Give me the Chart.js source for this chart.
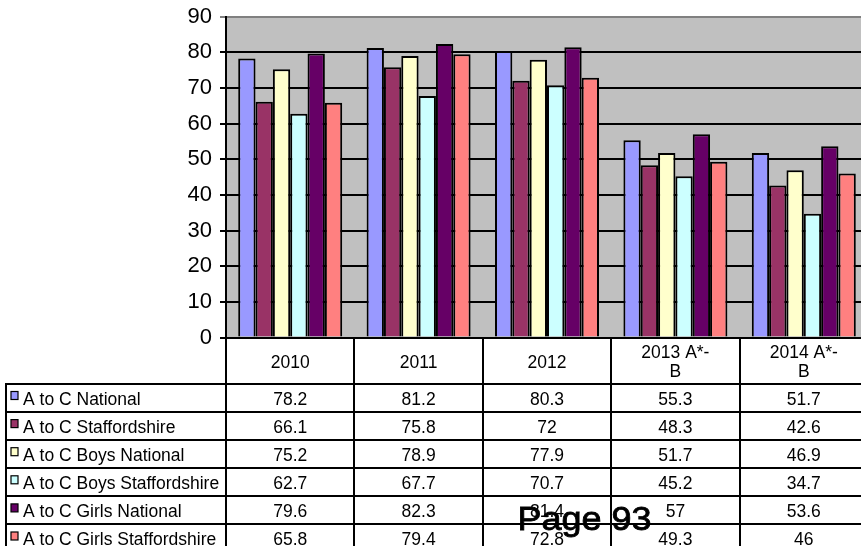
<!DOCTYPE html>
<html lang="en">
<head>
    <meta charset="UTF-8">
    <title>A to C results</title>
    <style>
        html, body {
            margin: 0;
            padding: 0;
            background: #fff;
            overflow: hidden;
        }
        #chart {
            display: block;
        }
    </style>
</head>
<body>
    <canvas id="chart" width="868" height="546"></canvas>

    <script src="https://cdn.jsdelivr.net/npm/chart.js@4"></script>
    <script>
        // years / grade bands along the bottom
        const categories = ['2010', '2011', '2012', ['2013 A*-', 'B'], ['2014 A*-', 'B']];

        const seriesNames = [
            'A to C National',
            'A to C Staffordshire',
            'A to C Boys National',
            'A to C Boys Staffordshire',
            'A to C Girls National',
            'A to C Girls Staffordshire'
        ];

        const acNational    = [78.2, 81.2, 80.3, 55.3, 51.7];
        const acStaffs      = [66.1, 75.8, 72, 48.3, 42.6];
        const boysNational  = [75.2, 78.9, 77.9, 51.7, 46.9];
        const boysStaffs    = [62.7, 67.7, 70.7, 45.2, 34.7];
        const girlsNational = [79.6, 82.3, 81.4, 57, 53.6];
        const girlsStaffs   = [65.8, 79.4, 72.8, 49.3, 46];

        const yMin = 0, yMax = 90, yStep = 10;

        const colours = ['#9999FF', '#993366', '#FFFFCC', '#CCFFFF', '#660066', '#FF8080'];
        const FONT = "'Liberation Sans', Arial, sans-serif";

        const seriesData = [acNational, acStaffs, boysNational, boysStaffs, girlsNational, girlsStaffs];

        // grey plot background
        const plotBg = {
            id: 'plotBg',
            beforeDraw(chart) {
                const { ctx, chartArea: a } = chart;
                ctx.save();
                ctx.fillStyle = '#C0C0C0';
                ctx.fillRect(a.left, a.top, a.right - a.left, a.bottom - a.top);
                ctx.restore();
            }
        };

        // data table under the axis, with legend keys in the first column
        const dataTable = {
            id: 'dataTable',
            afterDraw(chart) {
                const { ctx, chartArea: a } = chart;
                const xs = chart.scales.x;
                const W = chart.width, H = chart.height;
                const colW = (a.right - a.left) / categories.length;
                const headerBottom = a.bottom + 46;
                const rowH = 28.1;
                const tableLeft = 6;

                ctx.save();
                ctx.strokeStyle = '#000';
                ctx.lineWidth = 2;

                // column separators
                for (let i = 0; i < categories.length; i++) {
                    const x = Math.round(a.left + i * colW);
                    ctx.beginPath();
                    ctx.moveTo(x, a.bottom);
                    ctx.lineTo(x, H);
                    ctx.stroke();
                }
                ctx.beginPath();
                ctx.moveTo(tableLeft, headerBottom);
                ctx.lineTo(tableLeft, H);
                ctx.stroke();

                // row lines
                for (let r = 0; r <= seriesData.length; r++) {
                    const y = Math.round(headerBottom + r * rowH);
                    ctx.beginPath();
                    ctx.moveTo(tableLeft - 1, y);
                    ctx.lineTo(W, y);
                    ctx.stroke();
                }

                ctx.fillStyle = '#000';
                ctx.font = '17.5px ' + FONT;
                ctx.textBaseline = 'middle';
                ctx.textAlign = 'center';

                // header labels
                categories.forEach((lab, j) => {
                    const cx = xs.getPixelForValue(j);
                    const lines = Array.isArray(lab) ? lab : [lab];
                    if (lines.length === 1) {
                        ctx.fillText(lines[0], cx, a.bottom + 26);
                    } else {
                        lines.forEach((t, k) => ctx.fillText(t, cx, a.bottom + 16 + k * 19));
                    }
                });

                // body rows
                seriesData.forEach((vals, r) => {
                    const top = headerBottom + r * rowH;
                    const midY = top + 16.5;

                    ctx.fillStyle = colours[r];
                    ctx.fillRect(11, top + 8, 7, 8);
                    ctx.lineWidth = 1.2;
                    ctx.strokeRect(11, top + 8, 7, 8);
                    ctx.lineWidth = 2;

                    ctx.fillStyle = '#000';
                    ctx.textAlign = 'left';
                    ctx.fillText(seriesNames[r], 23, midY);

                    ctx.textAlign = 'center';
                    vals.forEach((v, j) => {
                        ctx.fillText(String(v), xs.getPixelForValue(j), midY);
                    });
                });

                // page number stamped over the table
                ctx.font = '33px ' + FONT;
                ctx.textAlign = 'left';
                ctx.textBaseline = 'alphabetic';
                const pageText = 'Page 93';
                const tw = ctx.measureText(pageText).width;
                ctx.translate(517.5, 530);
                ctx.scale(134 / tw, 1);
                ctx.lineWidth = 0.8;
                ctx.fillText(pageText, 0, 0);
                ctx.strokeText(pageText, 0, 0);

                ctx.restore();
            }
        };

        const ctx = document.getElementById('chart').getContext('2d');
        const chart = new Chart(ctx, {
            type: 'bar',
            data: {
                labels: categories,
                datasets: seriesData.map((d, i) => ({
                    label: seriesNames[i],
                    data: d,
                    backgroundColor: colours[i],
                    borderColor: '#000',
                    borderWidth: 2,
                    categoryPercentage: 0.81,
                    barPercentage: 1.0
                }))
            },
            options: {
                responsive: false,
                animation: false,
                layout: {
                    padding: { top: 16.5, bottom: 208.5, left: 0, right: 0 }
                },
                plugins: {
                    legend: { display: false },
                    tooltip: { enabled: false }
                },
                scales: {
                    x: {
                        grid: { display: false },
                        ticks: { display: false },
                        border: { display: true, color: '#000', width: 2 },
                        afterFit: (s) => { s.height = 0; }
                    },
                    y: {
                        min: yMin,
                        max: yMax,
                        ticks: {
                            stepSize: yStep,
                            color: '#000',
                            padding: 8,
                            font: { family: FONT, size: 22 }
                        },
                        grid: {
                            color: (c) => (c.tick && c.tick.value === yMax ? '#808080' : '#000'),
                            lineWidth: 2,
                            tickLength: 6
                        },
                        border: { color: '#000', width: 2 },
                        afterFit: (s) => {
                            s.width = 226;
                            s.paddingTop = 0;
                            s.paddingBottom = 0;
                        }
                    }
                }
            },
            plugins: [plotBg, dataTable]
        });
    </script>
</body>
</html>
